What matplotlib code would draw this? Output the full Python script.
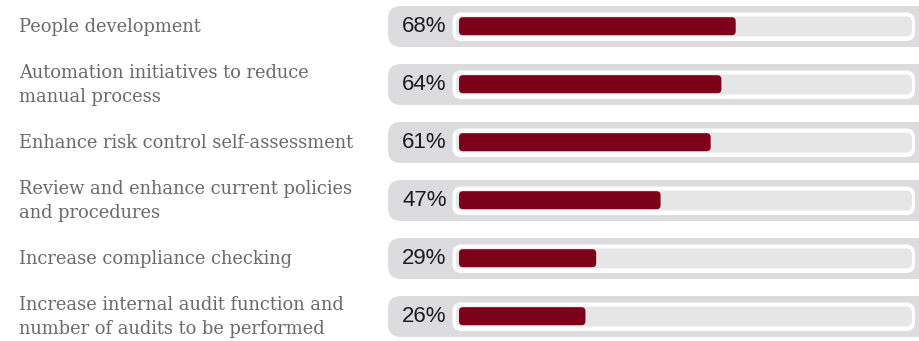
import matplotlib.pyplot as plt
from matplotlib.patches import FancyBboxPatch

# data
labels = [
    "People development",
    "Automation initiatives to reduce\nmanual process",
    "Enhance risk control self-assessment",
    "Review and enhance current policies\nand procedures",
    "Increase compliance checking",
    "Increase internal audit function and\nnumber of audits to be performed",
]
values = [68, 64, 61, 47, 29, 26]

# layout (pixels of the 919x341 picture)
W, H = 919, 341
x0_px, px_per_pct = 492.4, 3.578   # where 0% sits, px per percent
y0_px, row_px = 26.5, 58.0          # centre of first row, row pitch

def px2x(px):
    return (px - x0_px) / px_per_pct

def h2y(px):
    return px / row_px

fig = plt.figure(figsize=(W / 100, H / 100), dpi=100)
ax = fig.add_axes([0, 0, 1, 1])
ax.set_xlim(px2x(0), px2x(W))
ax.set_ylim((H - y0_px) / row_px, -y0_px / row_px)
ax.axis("off")

asp = px_per_pct / row_px

def rbox(left_px, right_px, yc, half_px, r_px, color, dy_px=0):
    x = px2x(left_px)
    w = px2x(right_px) - x
    y = yc + h2y(dy_px - half_px)
    p = FancyBboxPatch((x, y), w, h2y(2 * half_px),
                       boxstyle=f"round,pad=0,rounding_size={r_px / px_per_pct}",
                       mutation_aspect=asp, fc=color, ec="none", lw=0)
    ax.add_patch(p)

bar_start = px2x(459)
for i, (lab, v) in enumerate(zip(labels, values)):
    rbox(388, 935, i, 20.5, 13, "#dcdcde")
    rbox(452.5, 915, i, 14.3, 9, "white", dy_px=0.3)
    rbox(456, 912, i, 10, 6, "#e6e6e7", dy_px=0)
    # red bar from the track start to the value
    x = bar_start
    p = FancyBboxPatch((x, i + h2y(-0.3 - 9)), v - x, h2y(18),
                       boxstyle=f"round,pad=0,rounding_size={4 / px_per_pct}",
                       mutation_aspect=asp, fc="#7c001a", ec="none", lw=0)
    ax.add_patch(p)
    ax.text(px2x(402), i + h2y(0.5), f"{v}%", ha="left", va="center",
            fontsize=16, color="#1c1c1c", family="Liberation Sans")
    ax.text(px2x(19), i + h2y(0.5), lab, ha="left", va="center", fontsize=12.9,
            color="#6a6a6a", family="DejaVu Serif", linespacing=1.5)

fig.savefig("out.png", dpi=100)
